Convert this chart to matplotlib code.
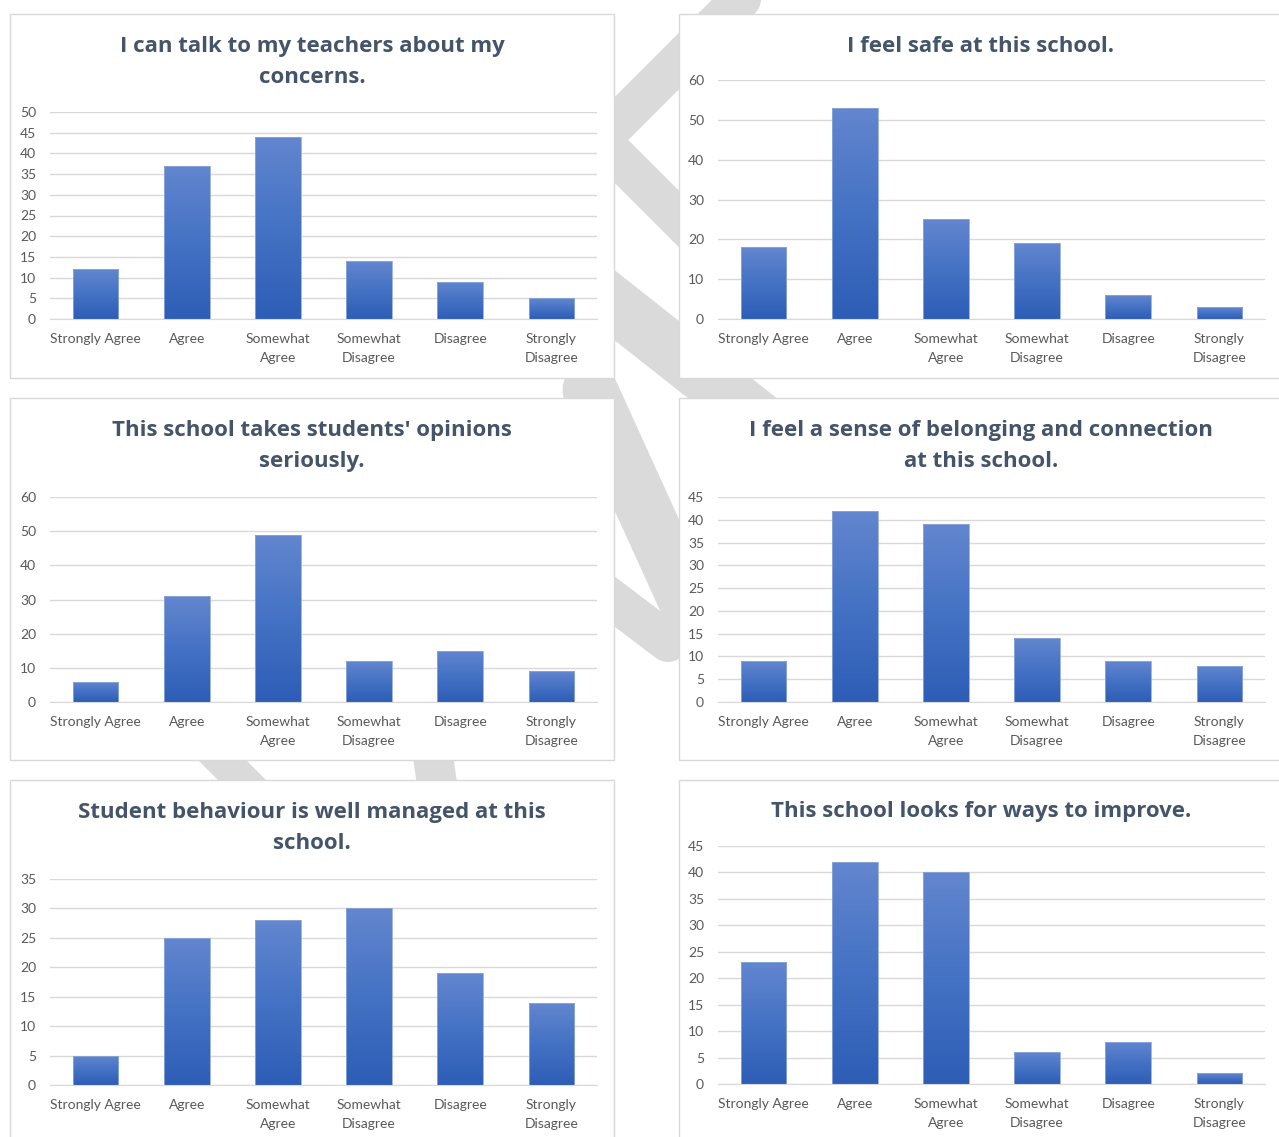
import numpy as np
import matplotlib
matplotlib.use("Agg")
import matplotlib.pyplot as plt
from matplotlib.colors import LinearSegmentedColormap
from matplotlib.lines import Line2D
from matplotlib.patches import Rectangle

plt.rcParams['font.family'] = ['Lato', 'DejaVu Sans']

# answer categories (same for every question)
categories = ["Strongly Agree", "Agree", "Somewhat\nAgree", "Somewhat\nDisagree",
              "Disagree", "Strongly\nDisagree"]

titles = ["I can talk to my teachers about my\nconcerns.",
          "I feel safe at this school.",
          "This school takes students' opinions\nseriously.",
          "I feel a sense of belonging and connection\nat this school.",
          "Student behaviour is well managed at this\nschool.",
          "This school looks for ways to improve."]

# number of answers per category
talk_teachers = [12, 37, 44, 14, 9, 5]
feel_safe = [18, 53, 25, 19, 6, 3]
opinions = [6, 31, 49, 12, 15, 9]
belonging = [9, 42, 39, 14, 9, 8]
behaviour = [5, 25, 28, 30, 19, 14]
improve = [23, 42, 40, 6, 8, 2]

y_max = [50, 60, 60, 45, 35, 45]
y_step = [5, 10, 10, 5, 5, 5]

series = [talk_teachers, feel_safe, opinions, belonging, behaviour, improve]

W, H = 1279, 1137
fig = plt.figure(figsize=(W / 100, H / 100), dpi=100)
fig.patch.set_facecolor("white")


def fx(px):
    return px / W


def fy(py):
    return 1 - py / H


# grey watermark strokes behind the panels
wm = [((760, -20), (600, 140), 40), ((600, 140), (700, 240), 40),
      ((570, 270), (760, 420), 55), ((590, 390), (690, 610), 55),
      ((560, 560), (668, 642), 40), ((200, 738), (300, 838), 34),
      ((425, 700), (445, 840), 40)]
for (x0, y0), (x1, y1), w in wm:
    fig.add_artist(Line2D([fx(x0), fx(x1)], [fy(y0), fy(y1)], transform=fig.transFigure,
                          color="#DADADA", lw=w * 0.72, solid_capstyle="round", zorder=0.1))

# panel boxes: (left, top, right, bottom) in px
panels = [(10, 14, 614, 378), (679, 14, 1290, 378),
          (10, 398, 614, 760), (679, 398, 1290, 760),
          (10, 780, 614, 1150), (679, 780, 1290, 1150)]
# plot areas: (left, top, right, bottom) in px
areas = [(50, 112, 597, 319), (718, 80, 1265, 319),
         (50, 497, 597, 702), (718, 497, 1265, 702),
         (50, 879, 597, 1085), (718, 846, 1265, 1084)]
title_y = [62, 46, 446, 446, 828, 812]

cmap = LinearSegmentedColormap.from_list("bar", ["#2D5DB6", "#4472C4", "#6386CF"])
grad = np.linspace(0, 1, 256).reshape(-1, 1)

for i in range(6):
    l, t, r, b = panels[i]
    fig.add_artist(Rectangle((fx(l), fy(b)), fx(r - l), (b - t) / H, transform=fig.transFigure,
                             facecolor="white", edgecolor="#D9D9D9", lw=1, zorder=0.5))
    fig.text(fx((l + min(r, 1283)) / 2), fy(title_y[i]), titles[i], ha="center", va="center",
             fontsize=16, fontweight="bold", color="#44546A", linespacing=1.68, zorder=2,
             family=["Open Sans", "DejaVu Sans"])

    al, at, ar, ab = areas[i]
    ax = fig.add_axes([fx(al), fy(ab), fx(ar - al), (ab - at) / H])
    ax.set_zorder(1)
    ax.patch.set_alpha(0)

    x = np.arange(len(categories))
    bars = ax.bar(x, series[i], width=0.5, facecolor="none", edgecolor="#8EA9DB",
                  lw=0.6, zorder=3)
    # gradient fill, clipped to each bar (dark at the bottom)
    for p in bars.patches:
        bx, bw, bh = p.get_x(), p.get_width(), p.get_height()
        im = ax.imshow(grad, cmap=cmap, origin="lower", extent=[bx, bx + bw, 0, bh],
                       aspect="auto", zorder=2)
        im.set_clip_path(p)

    ax.set_xlim(-0.5, len(categories) - 0.5)
    ax.set_ylim(0, y_max[i])
    ax.set_yticks(np.arange(0, y_max[i] + 1, y_step[i]))
    ax.set_xticks(x)
    ax.set_xticklabels(categories, linespacing=1.75)
    ax.grid(axis="y", color="#D9D9D9", lw=1)
    ax.set_axisbelow(True)
    for s in ["top", "right", "left"]:
        ax.spines[s].set_visible(False)
    ax.spines["bottom"].set_color("#D9D9D9")
    ax.tick_params(axis="both", length=0, colors="#595959", labelsize=10)
    ax.tick_params(axis="y", pad=10)
    ax.tick_params(axis="x", pad=10)

fig.savefig("out.png", dpi=100)
